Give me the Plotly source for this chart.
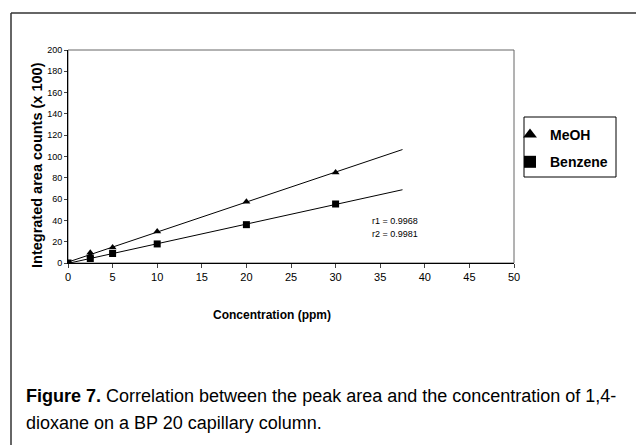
import numpy as np
import plotly.graph_objects as go

conc = [0, 2.5, 2.5, 5, 10, 20, 30]
meoh = [0, 7, 9.7, 14.5, 29.5, 57.6, 85]
conc_b = [0, 2.5, 5, 10, 20, 30]
benzene = [0, 4.2, 8.9, 17.9, 36, 55.4]
fit_x = [0, 37.5]
x_ticks = list(range(0, 55, 5))
y_ticks = list(range(0, 220, 20))
r_text = ["r1 = 0.9968", "r2 = 0.9981"]

L, R, T, B = 68, 514, 50, 263


def px(x):
    return (x - L) / (R - L)


def py(y):
    return (B - y) / (B - T)


def fit(x, y):
    m, c = np.polyfit(x, y, 1)
    return [m * xx + c for xx in fit_x]


fig = go.Figure()
fig.add_trace(go.Scatter(x=fit_x, y=fit(conc, meoh), mode="lines",
                         line=dict(color="black", width=1), showlegend=False, hoverinfo="skip"))
fig.add_trace(go.Scatter(x=fit_x, y=fit(conc_b, benzene), mode="lines",
                         line=dict(color="black", width=1), showlegend=False, hoverinfo="skip"))
fig.add_trace(go.Scatter(x=conc, y=meoh, mode="markers", name="<b>MeOH</b>",
                         marker=dict(symbol="triangle-up", size=7, color="black"),
                         legendgroup="a"))
fig.add_trace(go.Scatter(x=conc_b, y=benzene, mode="markers", name="<b>Benzene</b>",
                         marker=dict(symbol="square", size=7, color="black"),
                         legendgroup="b"))

fig.update_layout(
    width=636, height=445,
    margin=dict(l=L, r=636 - R, t=T, b=445 - B),
    plot_bgcolor="white", paper_bgcolor="white",
    font=dict(family="Liberation Sans, Arial, sans-serif", color="black", size=9),
    xaxis=dict(range=[0, 50], tickvals=x_ticks, ticks="outside", ticklen=4,
               showgrid=False, zeroline=False, showline=True, linecolor="black",
               linewidth=1, tickfont=dict(size=11)),
    yaxis=dict(range=[0, 200], tickvals=y_ticks, ticks="outside", ticklen=3,
               showgrid=False, zeroline=False, showline=True, linecolor="black",
               linewidth=1, tickfont=dict(size=9)),
    legend=dict(x=px(510), y=py(119), xref="paper", yref="paper",
                xanchor="left", yanchor="top",
                borderwidth=0, bgcolor="rgba(0,0,0,0)",
                font=dict(size=14, family="Liberation Sans, Arial, sans-serif"),
                tracegroupgap=6, itemwidth=30, itemsizing="constant"),
    showlegend=True,
)

# plot area frame (top/right)
fig.add_shape(type="rect", xref="paper", yref="paper", x0=0, y0=0, x1=1, y1=1,
              line=dict(color="#666", width=1), layer="below")
# legend box
fig.add_shape(type="rect", xref="paper", yref="paper", x0=px(524), x1=px(616),
              y0=py(117), y1=py(177), line=dict(color="black", width=1))
# outer figure frame (left and top, cropped on right/bottom)
fig.add_shape(type="line", xref="paper", yref="paper", x0=px(11), x1=px(640),
              y0=py(13), y1=py(13), line=dict(color="#333", width=1.5))
fig.add_shape(type="line", xref="paper", yref="paper", x0=px(11), x1=px(11),
              y0=py(13), y1=py(450), line=dict(color="#333", width=1.5))

cap_font = dict(size=18, family="Liberation Sans, Arial, sans-serif")
ann = [
    dict(text="<b>Integrated area counts (x 100)</b>", x=px(37), y=py(165),
         textangle=-90, font=dict(size=14.5)),
    dict(text="<b>Concentration (ppm)</b>", x=px(272), y=py(315), font=dict(size=12)),
    dict(text=r_text[0], x=px(370), y=py(221), xanchor="left", font=dict(size=9)),
    dict(text=r_text[1], x=px(370), y=py(234), xanchor="left", font=dict(size=9)),
    dict(text="<b>Figure 7.</b> Correlation between the peak area and the concentration of 1,4-",
         x=px(24), y=py(396), xanchor="left", font=cap_font),
    dict(text="dioxane on a BP 20 capillary column.",
         x=px(24), y=py(423), xanchor="left", font=cap_font),
]
for a in ann:
    a.setdefault("xanchor", "center")
    fig.add_annotation(xref="paper", yref="paper", showarrow=False, yanchor="middle", **a)

fig.write_html("out.html")
